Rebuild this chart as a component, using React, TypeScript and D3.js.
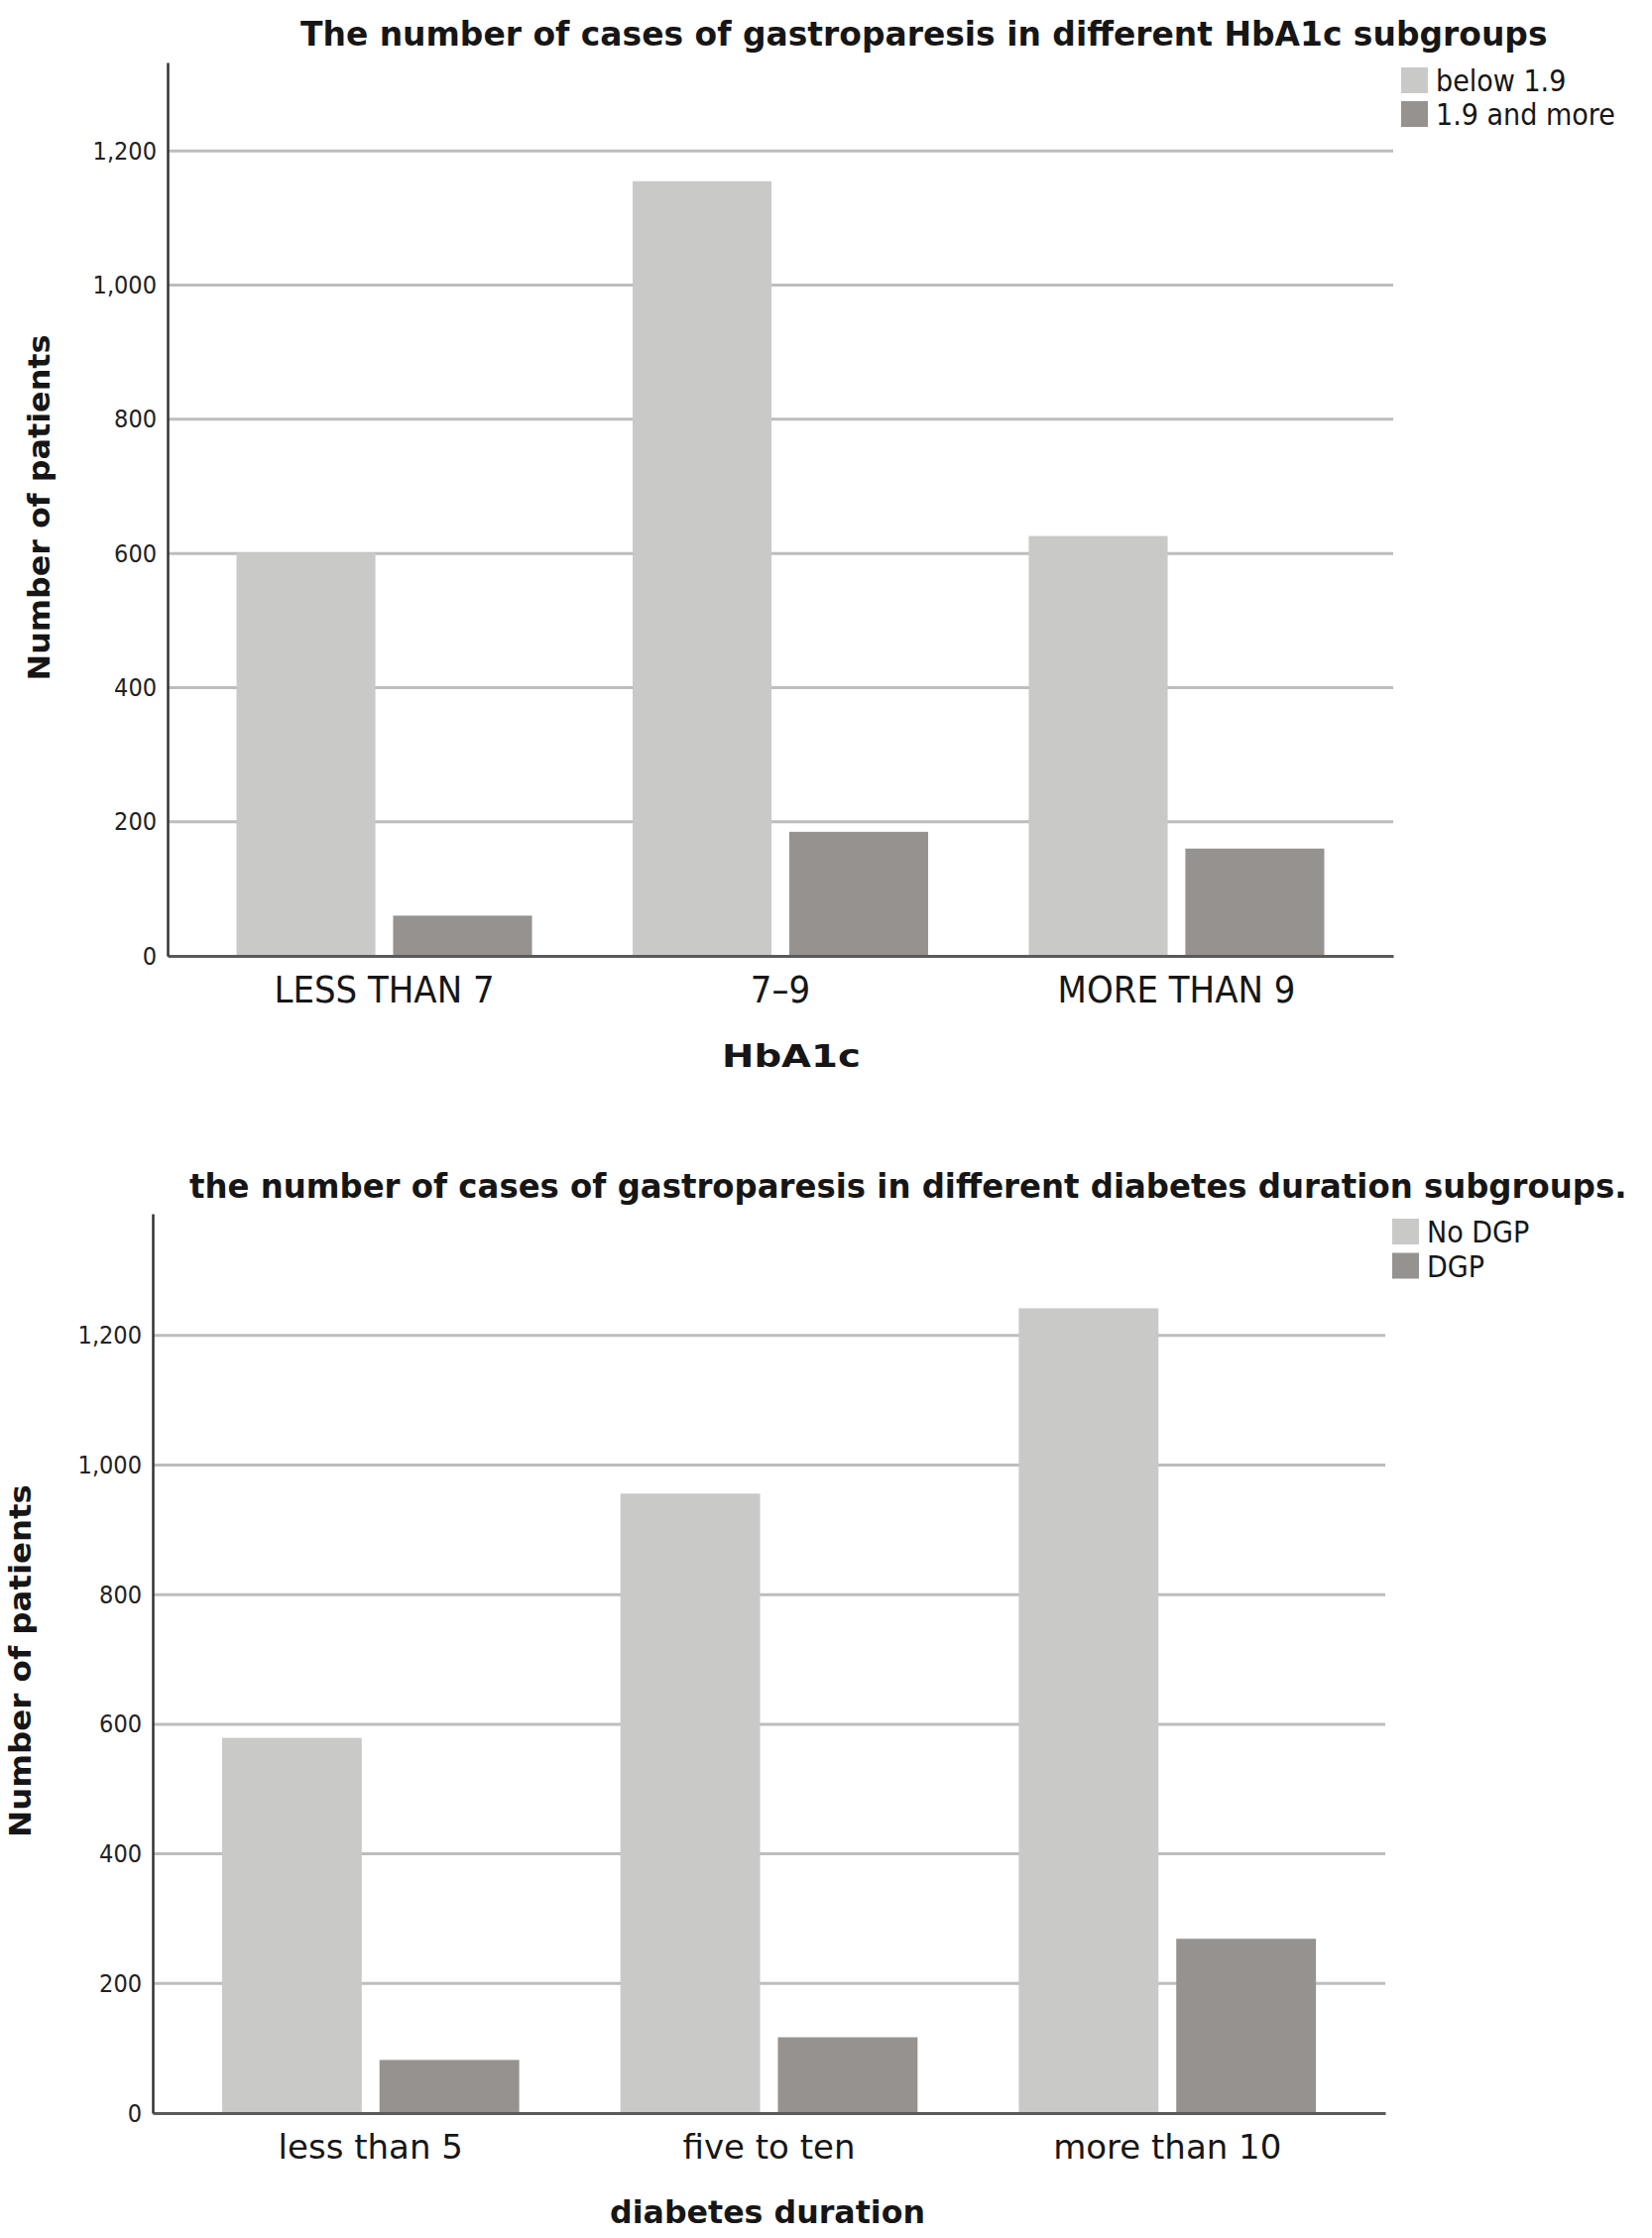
import { useEffect, useRef } from "react"
import * as d3 from "d3"

// HbA1c chart
const hba1cGroups = ["LESS THAN 7", "7–9", "MORE THAN 9"]
const hba1cSeries = ["below 1.9", "1.9 and more"]
const hba1cBelow = [601, 1155, 626]
const hba1cAbove = [60, 185, 160]

// diabetes duration chart
const durationGroups = ["less than 5", "five to ten", "more than 10"]
const durationSeries = ["No DGP", "DGP"]
const durationNoDgp = [579, 956, 1242]
const durationDgp = [82, 117, 269]

const yTicks = [0, 200, 400, 600, 800, 1000, 1200]

const W = 1666
const H = 2257
const LIGHT = "#c9c9c8"
const DARK = "#96928f"
const INK = "#161616"
const FONT = "'DejaVu Sans', 'Open Sans', sans-serif"

// the source figure is slightly condensed, squeeze small labels to match
function squeeze(sel, k) {
  sel.each(function () {
    const w = this.getComputedTextLength()
    d3.select(this).attr("textLength", w * k).attr("lengthAdjust", "spacingAndGlyphs")
  })
}

// scale a text horizontally so it spans `target` px
function fitText(sel, x, y, target, rot = false) {
  const w = sel.node().getComputedTextLength()
  sel.attr("transform", `translate(${x},${y})${rot ? " rotate(-90)" : ""} scale(${target / w},1)`)
}

function boldText(g, text, size) {
  return g
    .append("text")
    .attr("font-family", FONT)
    .attr("font-weight", "bold")
    .attr("font-size", size)
    .attr("fill", INK)
    .text(text)
}

function drawChart(svg, o) {
  const y = d3.scaleLinear().domain([0, o.yMax]).range([o.y0, o.yTop])
  const x = d3
    .scaleBand()
    .domain(o.groups)
    .range([o.xLeft, o.xRight])
    .paddingInner(0.254)
    .paddingOuter(0.174)
  const xs = d3.scaleBand().domain(o.series).range([0, x.bandwidth()]).paddingInner(0.113)
  const color = d3.scaleOrdinal().domain(o.series).range([LIGHT, DARK])

  const g = svg.append("g")

  // gridlines
  g.append("g")
    .selectAll("line")
    .data(yTicks.filter((d) => d > 0))
    .join("line")
    .attr("x1", o.xLeft)
    .attr("x2", o.xRight)
    .attr("y1", (d) => y(d))
    .attr("y2", (d) => y(d))
    .attr("stroke", "#bdbdbd")
    .attr("stroke-width", 3)

  // bars
  const rows = o.groups.map((grp, i) => o.series.map((s, j) => ({ grp, s, v: o.values[j][i] })))
  g.append("g")
    .selectAll("g")
    .data(rows)
    .join("g")
    .attr("transform", (d) => `translate(${x(d[0].grp)},0)`)
    .selectAll("rect")
    .data((d) => d)
    .join("rect")
    .attr("x", (d) => xs(d.s))
    .attr("y", (d) => y(d.v))
    .attr("width", xs.bandwidth())
    .attr("height", (d) => y(0) - y(d.v))
    .attr("fill", (d) => color(d.s))

  // x axis
  const xAxis = g
    .append("g")
    .attr("transform", `translate(0,${o.y0})`)
    .call(d3.axisBottom(x).tickSize(0).tickSizeOuter(0).tickPadding(o.xLabelOffset - 0.71 * o.xLabelFont))
  xAxis.select(".domain").attr("stroke", "#5a5a5a").attr("stroke-width", 3)
  xAxis
    .selectAll("text")
    .attr("font-family", FONT)
    .attr("font-size", o.xLabelFont)
    .attr("fill", INK)
    .call(squeeze, o.xLabelSqueeze)

  // y axis
  const yAxis = g
    .append("g")
    .attr("transform", `translate(${o.xLeft},0)`)
    .call(
      d3
        .axisLeft(y)
        .tickValues(yTicks)
        .tickSize(0)
        .tickSizeOuter(0)
        .tickPadding(11)
        .tickFormat(d3.format(",")),
    )
  yAxis.select(".domain").attr("stroke", "#333").attr("stroke-width", 2.5)
  yAxis
    .selectAll("text")
    .attr("font-family", FONT)
    .attr("font-size", 25)
    .attr("fill", "#222")
    .call(squeeze, 0.9)

  // title
  boldText(g, o.title.text, 33).call(fitText, o.title.x, o.title.y, o.title.len)

  // y axis title
  boldText(g, "Number of patients", 30)
    .attr("text-anchor", "middle")
    .call(fitText, o.yLabel.x, o.yLabel.cy, o.yLabel.len, true)

  // x axis title
  boldText(g, o.xTitle.text, 32).call(fitText, o.xTitle.x, o.xTitle.y, o.xTitle.len)

  // legend
  const lg = g
    .append("g")
    .selectAll("g")
    .data(o.series)
    .join("g")
    .attr("transform", (d, i) => `translate(${o.legend.x},${o.legend.y + i * o.legend.step})`)
  lg.append("rect").attr("width", 27).attr("height", 26).attr("fill", (d) => color(d))
  lg.append("text")
    .attr("x", 35)
    .attr("y", 24)
    .attr("font-family", FONT)
    .attr("font-size", 30)
    .attr("fill", INK)
    .text((d) => d)
    .call(squeeze, 0.9)
}

export default function App() {
  const svgRef = useRef(null)

  useEffect(() => {
    if (!svgRef.current) return
    document.body.style.margin = "0"
    const svg = d3.select(svgRef.current)
    svg.selectAll("*").remove()

    drawChart(svg, {
      groups: hba1cGroups,
      series: hba1cSeries,
      values: [hba1cBelow, hba1cAbove],
      yMax: 1332,
      y0: 964,
      yTop: 63,
      xLeft: 169,
      xRight: 1405,
      xLabelFont: 37,
      xLabelOffset: 47,
      xLabelSqueeze: 0.92,
      title: { text: "The number of cases of gastroparesis in different HbA1c subgroups", x: 303, y: 46, len: 1258 },
      yLabel: { x: 50, cy: 512, len: 349 },
      xTitle: { text: "HbA1c", x: 728, y: 1076, len: 140 },
      legend: { x: 1413, y: 68, step: 34 },
    })

    drawChart(svg, {
      groups: durationGroups,
      series: durationSeries,
      values: [durationNoDgp, durationDgp],
      yMax: 1388,
      y0: 2131,
      yTop: 1224,
      xLeft: 154,
      xRight: 1397,
      xLabelFont: 34,
      xLabelOffset: 46,
      xLabelSqueeze: 1,
      title: {
        text: "the number of cases of gastroparesis in different diabetes duration subgroups.",
        x: 191,
        y: 1208,
        len: 1450,
      },
      yLabel: { x: 31, cy: 1675, len: 356 },
      xTitle: { text: "diabetes duration", x: 615, y: 2242, len: 318 },
      legend: { x: 1404, y: 1229, step: 34.5 },
    })
  }, [])

  return <svg ref={svgRef} width={W} height={H} style={{ display: "block", background: "#fff" }}></svg>
}
